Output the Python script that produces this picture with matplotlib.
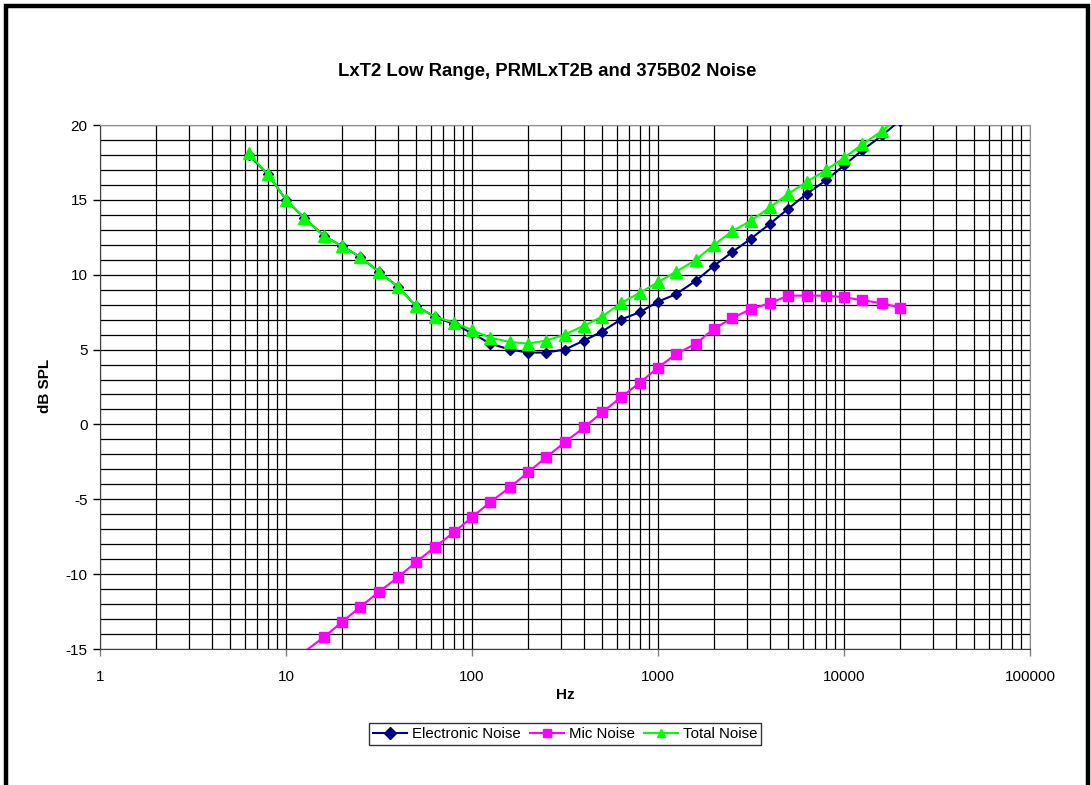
import matplotlib
matplotlib.use("Agg")
import matplotlib.pyplot as plt
from matplotlib.ticker import LogLocator, MultipleLocator, FixedLocator, NullFormatter
from matplotlib.patches import Rectangle

plt.rcParams['font.family'] = ['Liberation Sans', 'DejaVu Sans']
plt.rcParams['axes.unicode_minus'] = False

freq = [6.3, 8, 10, 12.5, 16, 20, 25, 31.5, 40, 50, 63, 80, 100, 125, 160, 200,
        250, 315, 400, 500, 630, 800, 1000, 1250, 1600, 2000, 2500, 3150, 4000,
        5000, 6300, 8000, 10000, 12500, 16000, 20000]

electronic = [18.0, 16.7, 15.0, 13.8, 12.6, 11.9, 11.2, 10.2, 9.2, 7.9, 7.2, 6.7,
              6.1, 5.4, 5.0, 4.8, 4.8, 5.0, 5.6, 6.2, 7.0, 7.5, 8.2, 8.7, 9.6,
              10.6, 11.5, 12.4, 13.4, 14.4, 15.4, 16.3, 17.3, 18.3, 19.3, 20.3]

mic_freq = [12.5, 16, 20, 25, 31.5, 40, 50, 63, 80, 100, 125, 160, 200, 250, 315,
            400, 500, 630, 800, 1000, 1250, 1600, 2000, 2500, 3150, 4000, 5000,
            6300, 8000, 10000, 12500, 16000, 20000]
mic = [-15.2, -14.2, -13.2, -12.2, -11.2, -10.2, -9.2, -8.2, -7.2, -6.2, -5.2,
       -4.2, -3.2, -2.2, -1.2, -0.2, 0.8, 1.8, 2.8, 3.8, 4.7, 5.4, 6.4, 7.1, 7.7,
       8.1, 8.6, 8.6, 8.6, 8.5, 8.3, 8.1, 7.8]

total = [18.1, 16.7, 15.0, 13.8, 12.6, 11.9, 11.2, 10.2, 9.2, 7.9, 7.2, 6.8,
         6.3, 5.8, 5.5, 5.4, 5.6, 6.0, 6.6, 7.2, 8.1, 8.8, 9.5, 10.2, 11.0,
         12.0, 12.9, 13.6, 14.5, 15.4, 16.2, 17.0, 17.8, 18.7, 19.6, 20.6]

title = "LxT2 Low Range, PRMLxT2B and 375B02 Noise"
xlabel = "Hz"
ylabel = "dB SPL"
xticks = [1, 10, 100, 1000, 10000, 100000]
xticklabels = ["1", "10", "100", "1000", "10000", "100000"]
yticks = [-15, -10, -5, 0, 5, 10, 15, 20]

fig = plt.figure(figsize=(10.91, 7.85), dpi=100)
fig.patches.append(Rectangle((5.5 / 1091, -0.05), (1087.5 - 5.5) / 1091, 1 - 5.5 / 785 + 0.05,
                             transform=fig.transFigure, fill=False,
                             edgecolor='black', linewidth=3.2, zorder=10))

ax = fig.add_axes([100 / 1091, 1 - 649 / 785, 930 / 1091, 524 / 785])
ax.set_xscale('log')
ax.set_xlim(1, 100000)
ax.set_ylim(-15, 20)

ax.xaxis.set_major_locator(FixedLocator(xticks))
ax.set_xticklabels(xticklabels)
ax.xaxis.set_minor_locator(LogLocator(base=10, subs=range(2, 10), numticks=100))
ax.xaxis.set_minor_formatter(NullFormatter())
ax.set_yticks(yticks)
ax.yaxis.set_minor_locator(MultipleLocator(1))

ax.grid(True, which='both', color='black', linewidth=0.9)
ax.set_axisbelow(True)
ax.tick_params(which='minor', length=0)
ax.tick_params(which='major', direction='out', length=5, width=1, labelsize=11,
               color='#808080', pad=6)
ax.tick_params(axis='y', colors='black', pad=4)
ax.tick_params(axis='x', pad=10)

for s in ['top', 'right']:
    ax.spines[s].set_color('#909090')
for s in ['left', 'bottom']:
    ax.spines[s].set_color('#404040')

ax.plot(freq, electronic, color='#000080', marker='D', markersize=5, linewidth=1.5,
        label='Electronic Noise', zorder=3)
ax.plot(mic_freq, mic, color='#FF00FF', marker='s', markersize=7, linewidth=1.5,
        markevery=list(range(1, len(mic))), label='Mic Noise', zorder=3)
ax.plot(freq, total, color='#00FF00', marker='^', markersize=8, linewidth=1.5,
        label='Total Noise', zorder=4)

fig.text(547 / 1091, 1 - 72 / 785, title, ha='center', va='center',
         fontsize=13.3, fontweight='bold')
fig.text(565 / 1091, 1 - 695 / 785, xlabel, ha='center', va='center',
         fontsize=11, fontweight='bold')
fig.text(45 / 1091, 1 - 386 / 785, ylabel, ha='center', va='center',
         fontsize=11, fontweight='bold', rotation=90)

leg = fig.legend(loc='center', bbox_to_anchor=(565 / 1091, 1 - 734 / 785), ncol=3,
                 fontsize=10.8, frameon=True, fancybox=False, edgecolor='black',
                 handlelength=2.3, handletextpad=0.3, columnspacing=0.6,
                 borderpad=0.25, borderaxespad=0)
leg.get_frame().set_linewidth(1.0)
for h in leg.legend_handles:
    h.set_markersize(6)

fig.savefig('out.png', dpi=100)
